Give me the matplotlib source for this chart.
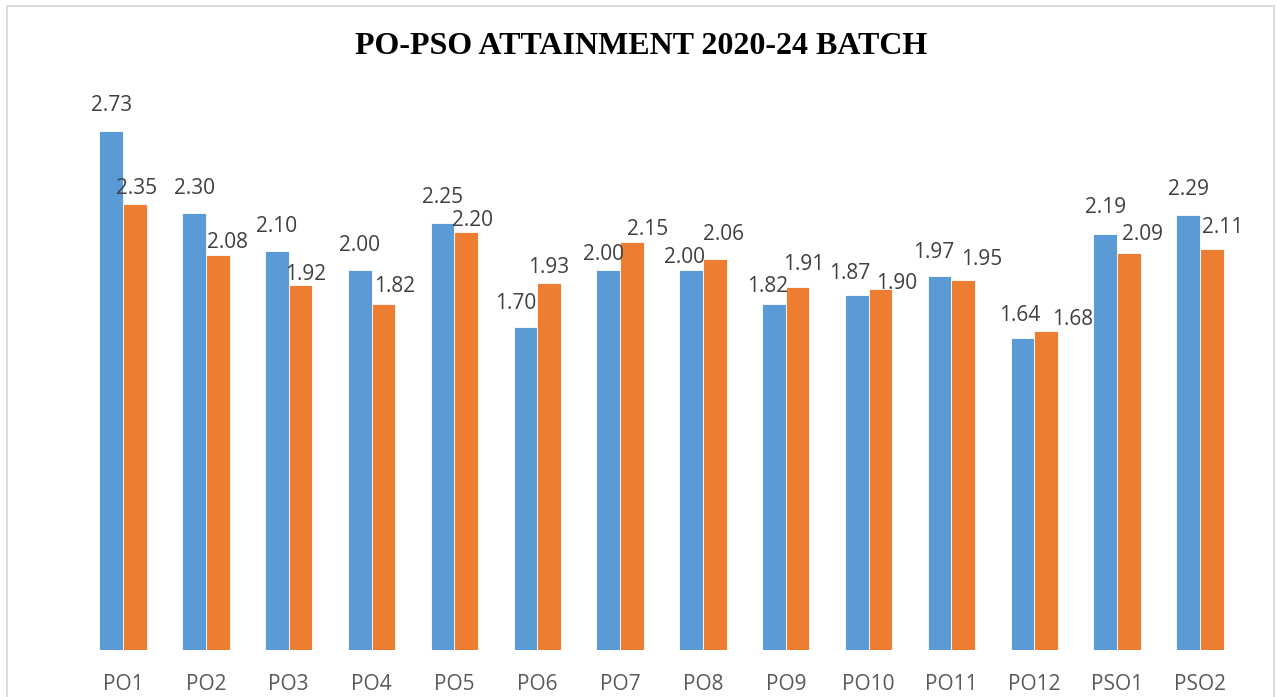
import matplotlib
matplotlib.use("Agg")
import matplotlib.pyplot as plt
from matplotlib.patches import Rectangle
import numpy as np

categories = ["PO1", "PO2", "PO3", "PO4", "PO5", "PO6", "PO7", "PO8", "PO9",
              "PO10", "PO11", "PO12", "PSO1", "PSO2"]
series_a = [2.73, 2.30, 2.10, 2.00, 2.25, 1.70, 2.00, 2.00, 1.82, 1.87, 1.97, 1.64, 2.19, 2.29]
series_b = [2.35, 2.08, 1.92, 1.82, 2.20, 1.93, 2.15, 2.06, 1.91, 1.90, 1.95, 1.68, 2.09, 2.11]
title = "PO-PSO ATTAINMENT 2020-24 BATCH"

# label nudges (pixels) relative to bar top-centre, as placed in the reference
nudge_a = [(0, 26), (0, 25), (0, 25), (0, 25), (0, 25), (-10, 24), (-5, 16), (-7, 13),
           (-6, 18), (-7, 21), (-6, 23), (-3, 23), (0, 26), (0, 25)]
nudge_b = [(2, 15), (10, 12), (5, 11), (11, 18), (6, 12), (0, 16), (16, 12), (9, 24),
           (6, 23), (16, 6), (18, 20), (26, 11), (14, 18), (11, 22)]

W, H = 1277, 697
fig = plt.figure(figsize=(W / 100, H / 100), dpi=100)
fig.patch.set_facecolor("white")

ax_left, ax_right, ax_bottom, ax_top = 81.6, 1241.4, 650, 80
ax = fig.add_axes([ax_left / W, (H - ax_bottom) / H,
                   (ax_right - ax_left) / W, (ax_bottom - ax_top) / H])

x = np.arange(len(categories))
bw = 0.286
bars_a = ax.bar(x - bw / 2, series_a, bw, color="#5B9BD5", edgecolor="white", linewidth=0.6)
bars_b = ax.bar(x + bw / 2, series_b, bw, color="#ED7D31", edgecolor="white", linewidth=0.6)

lab_font = dict(family=["Open Sans", "DejaVu Sans"], size=15, color="#404040")
for bars, vals, nud in ((bars_a, series_a, nudge_a), (bars_b, series_b, nudge_b)):
    for b, v, (dx, dy) in zip(bars, vals, nud):
        ax.annotate(f"{v:.2f}", (b.get_x() + b.get_width() / 2, v),
                    xytext=(dx, dy), textcoords="offset pixels",
                    ha="center", va="center", **lab_font)

ax.set_xlim(-0.5, len(categories) - 0.5)
ax.set_ylim(0, 3.0)
ax.set_xticks(x)
ax.set_xticklabels(categories, family=["Open Sans", "DejaVu Sans"], fontsize=15, color="#595959")
ax.tick_params(axis="x", length=0, pad=17)
ax.set_yticks([])
for s in ax.spines.values():
    s.set_visible(False)

fig.text(641 / W, 1 - 46 / H, title, ha="center", va="center",
         family=["Liberation Serif", "DejaVu Serif"], weight="bold", fontsize=23, color="black")

fig.patches.append(Rectangle((7 / W, -0.05), (1274 - 7) / W, 1.05 - 6 / H,
                             transform=fig.transFigure, fill=False,
                             edgecolor="#D9D9D9", linewidth=1.3))

fig.savefig("out.png", dpi=100, facecolor="white")
